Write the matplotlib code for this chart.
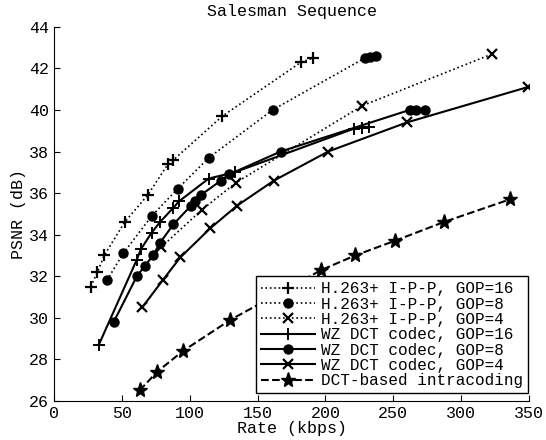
import matplotlib
matplotlib.use("Agg")
import matplotlib.pyplot as plt

plt.rcParams['font.family'] = ['Liberation Mono', 'DejaVu Sans Mono']

# H.263+ I-P-P curves (dotted)
h263_g16_rate = [27, 32, 37, 52, 69, 84, 88, 124, 182, 191]
h263_g16_psnr = [31.5, 32.2, 33.0, 34.6, 35.9, 37.4, 37.6, 39.7, 42.3, 42.5]

h263_g8_rate = [39, 51, 72, 91, 114, 161, 229, 233, 237]
h263_g8_psnr = [31.8, 33.1, 34.9, 36.2, 37.7, 40.0, 42.5, 42.55, 42.6]

h263_g4_rate = [79, 109, 134, 227, 323]
h263_g4_psnr = [33.4, 35.2, 36.5, 40.2, 42.7]

# WZ DCT codec curves (solid)
wz_g16_rate = [33, 61, 64, 72, 78, 88, 92, 114, 133, 221, 227, 232]
wz_g16_psnr = [28.7, 32.8, 33.3, 34.1, 34.6, 35.3, 35.6, 36.7, 37.0, 39.1, 39.15, 39.2]

wz_g8_rate = [44, 61, 67, 73, 78, 88, 101, 104, 108, 123, 129, 167, 262, 267, 273]
wz_g8_psnr = [29.8, 32.0, 32.5, 33.0, 33.6, 34.5, 35.4, 35.6, 35.9, 36.6, 36.9, 38.0, 40.0, 40.0, 40.0]

wz_g4_rate = [65, 80, 93, 115, 135, 162, 202, 260, 349]
wz_g4_psnr = [30.5, 31.8, 32.9, 34.3, 35.4, 36.6, 38.0, 39.4, 41.1]

# DCT-based intracoding (dashed)
intra_rate = [63, 76, 95, 130, 197, 222, 251, 287, 336]
intra_psnr = [26.5, 27.4, 28.4, 29.9, 32.3, 33.0, 33.7, 34.6, 35.7]

fig = plt.figure(figsize=(5.46, 4.40), dpi=100)
ax = fig.add_axes([0.099, 0.089, 0.870, 0.850])

k = 'black'
ax.plot(h263_g16_rate, h263_g16_psnr, ':', color=k, lw=1.2, marker='+', ms=9, mew=1.6,
        label='H.263+ I-P-P, GOP=16')
ax.plot(h263_g8_rate, h263_g8_psnr, ':', color=k, lw=1.2, marker='o', ms=6.5,
        label='H.263+ I-P-P, GOP=8')
ax.plot(h263_g4_rate, h263_g4_psnr, ':', color=k, lw=1.2, marker='x', ms=7, mew=1.6,
        label='H.263+ I-P-P, GOP=4')
ax.plot(wz_g16_rate, wz_g16_psnr, '-', color=k, lw=1.5, marker='+', ms=9, mew=1.4,
        label='WZ DCT codec, GOP=16')
ax.plot(wz_g8_rate, wz_g8_psnr, '-', color=k, lw=1.5, marker='o', ms=6.5,
        label='WZ DCT codec, GOP=8')
ax.plot(wz_g4_rate, wz_g4_psnr, '-', color=k, lw=1.5, marker='x', ms=7, mew=1.6,
        label='WZ DCT codec, GOP=4')
ax.plot(intra_rate, intra_psnr, '--', color=k, lw=1.5, marker='*', ms=11,
        label='DCT-based intracoding')

ax.set_xlim(0, 350)
ax.set_ylim(26, 44)
ax.set_xticks(range(0, 351, 50))
ax.set_yticks(range(26, 45, 2))
ax.tick_params(direction='in', length=4, labelsize=12, colors=k)
ax.spines['top'].set_visible(False)
ax.spines['right'].set_visible(False)

ax.set_title('Salesman Sequence', fontsize=12, pad=8)
ax.set_xlabel('Rate (kbps)', fontsize=12, labelpad=0)
ax.set_ylabel('PSNR (dB)', fontsize=12, labelpad=2)

leg = ax.legend(loc='lower right', bbox_to_anchor=(0.998, 0.021), borderaxespad=0,
                fontsize=11.5, fancybox=False, framealpha=1, edgecolor=k,
                handlelength=3.4, handletextpad=0.4, labelspacing=0.02,
                borderpad=0.3)
leg.get_frame().set_linewidth(1.0)

fig.savefig('out.png', dpi=100)
